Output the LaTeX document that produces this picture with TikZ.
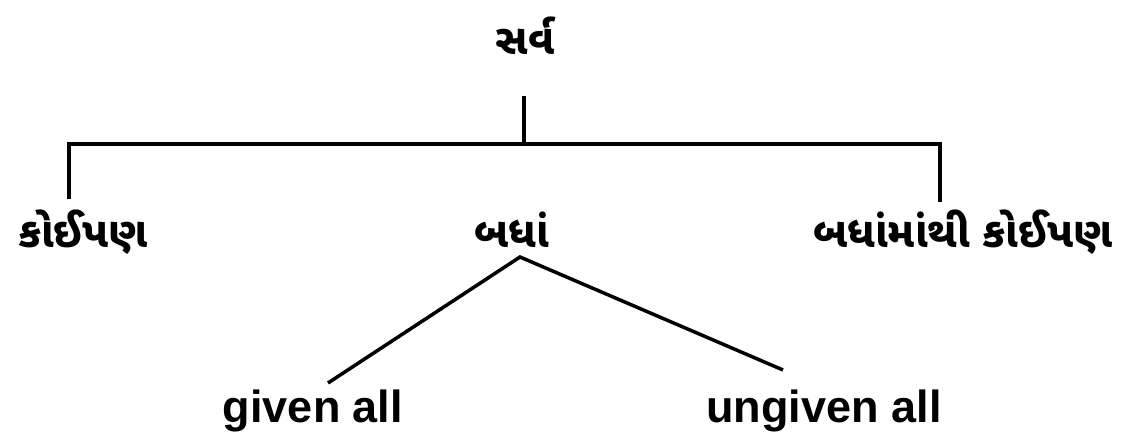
\documentclass[tikz,border=0pt]{standalone}
\usepackage{fontspec}
\setmainfont{Liberation Sans}
\newfontfamily\gujfont[Script=Gujarati]{Noto Sans Gujarati UI}
\begin{document}
\begin{tikzpicture}[x=1pt,y=-1pt,
  guj/.style={font=\gujfont\bfseries\fontsize{42}{48}\selectfont, inner sep=0pt, anchor=base},
  eng/.style={font=\bfseries\fontsize{45}{51}\selectfont, inner sep=0pt, anchor=base},
  conn/.style={line width=3.5pt, line cap=rect}]
\useasboundingbox (0,0) rectangle (1122,438);
\fill[white] (0,0) rectangle (1122,438);
% labels
\node[guj] (top) at (525,55) {સર્વ};
\node[guj] (left) at (83,248) {કોઈપણ};
\node[guj] (mid) at (512,248) {બધાં};
\node[guj] (right) at (963,248) {બધાંમાંથી કોઈપણ};
\node[eng] (given) at (313,422) {given all};
\node[eng] (ungiven) at (824,422) {ungiven all};
% junction coordinates
\coordinate (topend) at (524,98);
\coordinate (hub) at (524,144);
\coordinate (lcorner) at (69,144);
\coordinate (rcorner) at (940,144);
\coordinate (lend) at (69,197);
\coordinate (rend) at (940,200);
\coordinate (apex) at (520,257);
\coordinate (gend) at (328,383);
\coordinate (uend) at (783,370);
% connectors
\draw[conn] (topend) -- (hub);
\draw[conn] (lend) -- (lcorner) -- (rcorner) -- (rend);
\draw[conn, line cap=butt] (gend) -- (apex) -- (uend);
\end{tikzpicture}
\end{document}
